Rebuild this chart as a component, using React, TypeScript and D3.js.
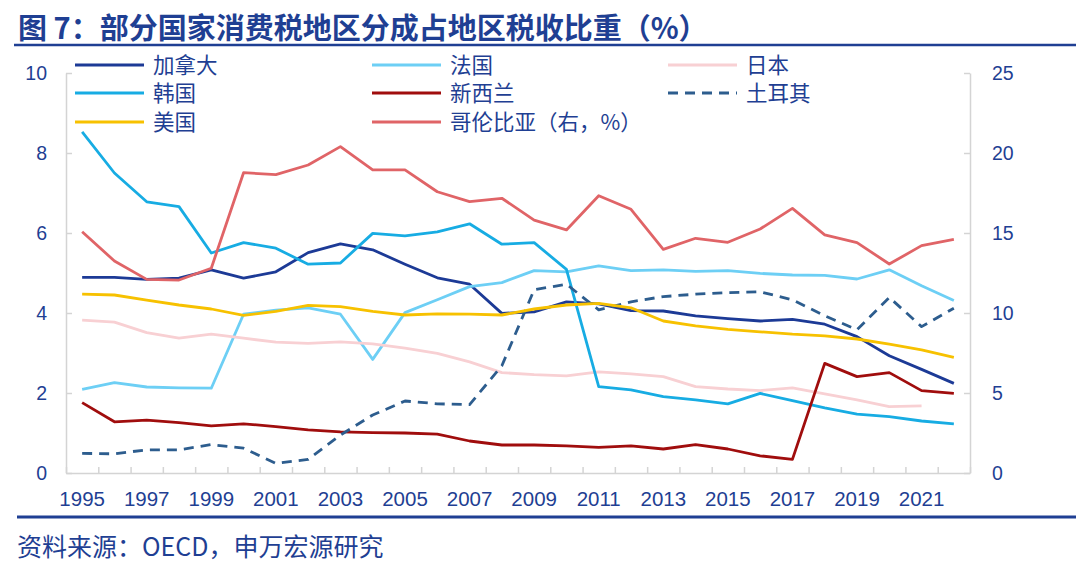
import { useEffect, useRef } from 'react';
import * as d3 from 'd3';

const years = [1995, 1996, 1997, 1998, 1999, 2000, 2001, 2002, 2003, 2004, 2005, 2006, 2007, 2008, 2009, 2010, 2011, 2012, 2013, 2014, 2015, 2016, 2017, 2018, 2019, 2020, 2021, 2022];

const canada = [4.89, 4.89, 4.84, 4.87, 5.08, 4.87, 5.03, 5.51, 5.73, 5.58, 5.22, 4.88, 4.72, 3.99, 4.03, 4.28, 4.23, 4.06, 4.05, 3.93, 3.86, 3.8, 3.84, 3.72, 3.41, 2.93, 2.59, 2.24];
const france = [2.09, 2.26, 2.15, 2.13, 2.12, 3.97, 4.07, 4.13, 3.97, 2.84, 4.01, 4.33, 4.66, 4.76, 5.06, 5.03, 5.18, 5.06, 5.08, 5.04, 5.06, 4.99, 4.95, 4.94, 4.85, 5.08, 4.68, 4.31];
const japan = [3.82, 3.77, 3.51, 3.37, 3.47, 3.37, 3.27, 3.24, 3.28, 3.23, 3.12, 2.99, 2.78, 2.51, 2.46, 2.43, 2.53, 2.48, 2.41, 2.16, 2.1, 2.06, 2.13, 1.98, 1.83, 1.66, 1.68, null];
const korea = [8.53, 7.5, 6.78, 6.66, 5.5, 5.76, 5.62, 5.22, 5.25, 5.99, 5.93, 6.03, 6.23, 5.72, 5.76, 5.09, 2.16, 2.08, 1.91, 1.83, 1.73, 1.99, 1.81, 1.63, 1.47, 1.41, 1.3, 1.23];
const newZealand = [1.76, 1.28, 1.32, 1.26, 1.18, 1.23, 1.16, 1.08, 1.03, 1.01, 1.0, 0.97, 0.8, 0.7, 0.7, 0.68, 0.64, 0.68, 0.6, 0.71, 0.6, 0.43, 0.34, 2.74, 2.41, 2.51, 2.06, 1.99];
const turkey = [0.49, 0.48, 0.58, 0.58, 0.71, 0.62, 0.24, 0.34, 0.95, 1.45, 1.8, 1.73, 1.71, 2.68, 4.58, 4.72, 4.08, 4.28, 4.41, 4.47, 4.51, 4.53, 4.33, 3.93, 3.58, 4.39, 3.66, 4.12];
const usa = [4.47, 4.45, 4.32, 4.2, 4.1, 3.94, 4.04, 4.19, 4.16, 4.04, 3.95, 3.98, 3.97, 3.95, 4.1, 4.2, 4.24, 4.13, 3.8, 3.68, 3.59, 3.53, 3.47, 3.43, 3.35, 3.22, 3.08, 2.89];
const colombia = [15.08, 13.25, 12.1, 12.06, 12.8, 18.77, 18.65, 19.25, 20.4, 18.94, 18.94, 17.58, 16.96, 17.17, 15.81, 15.19, 17.33, 16.48, 13.98, 14.67, 14.42, 15.25, 16.54, 14.88, 14.4, 13.06, 14.21, 14.6];

const leftTicks = [0, 2, 4, 6, 8, 10];
const rightTicks = [0, 5, 10, 15, 20, 25];
const labelYears = [1995, 1997, 1999, 2001, 2003, 2005, 2007, 2009, 2011, 2013, 2015, 2017, 2019, 2021];

const NAVY = '#1f3f93';
const CJK = '"Noto Sans CJK SC", "Noto Sans", sans-serif';
const LATIN = '"Liberation Sans", Arial, sans-serif';

type Series = { name: string; values: (number | null)[]; color: string; right?: boolean; dash?: string };

const series: Series[] = [
  { name: '加拿大', values: canada, color: '#1c3a96' },
  { name: '法国', values: france, color: '#6dcff5' },
  { name: '日本', values: japan, color: '#f8d0d3' },
  { name: '韩国', values: korea, color: '#17ace3' },
  { name: '新西兰', values: newZealand, color: '#a00d0d' },
  { name: '土耳其', values: turkey, color: '#2d5d8e', dash: '10,7' },
  { name: '美国', values: usa, color: '#f7c100' },
  { name: '哥伦比亚（右，%）', values: colombia, color: '#e06467', right: true },
];

export default function App() {
  const ref = useRef<SVGSVGElement | null>(null);

  useEffect(() => {
    const svg = d3.select(ref.current!);
    svg.selectAll('*').remove();
    const W = 1080, H = 563;
    const left = 66, right = 970, top = 73, bottom = 473;

    svg.append('rect').attr('width', W).attr('height', H).attr('fill', '#fff');

    // title
    svg.append('text').attr('x', 18).attr('y', 39).attr('fill', NAVY).attr('font-size', 29).attr('font-weight', 700)
      .attr('font-family', CJK).text('图 7：部分国家消费税地区分成占地区税收比重（%）');
    svg.append('line').attr('x1', 14).attr('x2', 1076).attr('y1', 45).attr('y2', 45).attr('stroke', NAVY).attr('stroke-width', 2.5);

    const x = d3.scaleBand<number>().domain(years).range([left, right]);
    const cx = (yr: number) => (x(yr) ?? 0) + x.bandwidth() / 2;
    const yL = d3.scaleLinear().domain([0, 10]).range([bottom, top]);
    const yR = d3.scaleLinear().domain([0, 25]).range([bottom, top]);
    const xEdge = d3.scaleLinear().domain([0, years.length]).range([left, right]);

    const styleAxis = (g: d3.Selection<SVGGElement, unknown, null, undefined>) => {
      g.selectAll('.domain').attr('stroke', '#d4d4d4').attr('stroke-width', 1.5);
      g.selectAll('.tick line').attr('stroke', '#d4d4d4').attr('stroke-width', 1.5);
      g.selectAll('text').attr('fill', NAVY).attr('font-family', LATIN);
    };

    // x tick marks at band edges
    const gx = svg.append('g').attr('transform', `translate(0,${bottom})`)
      .call(d3.axisBottom(xEdge).tickValues(d3.range(0, years.length + 1)).tickSizeInner(-6).tickSizeOuter(0).tickFormat(() => ''));
    styleAxis(gx);
    const gxl = svg.append('g').attr('transform', `translate(0,${bottom})`)
      .call(d3.axisBottom(x).tickValues(labelYears).tickSize(0).tickPadding(18).tickFormat((d) => String(d)));
    gxl.select('.domain').remove();
    styleAxis(gxl);
    gxl.selectAll('text').attr('font-size', 20.5);

    const gl = svg.append('g').attr('transform', `translate(${left},0)`)
      .call(d3.axisLeft(yL).tickValues(leftTicks).tickSizeInner(-6).tickSizeOuter(0).tickPadding(19));
    styleAxis(gl);
    gl.selectAll('text').attr('font-size', 19.5);

    const gr = svg.append('g').attr('transform', `translate(${right},0)`)
      .call(d3.axisRight(yR).tickValues(rightTicks).tickSizeInner(-6).tickSizeOuter(0).tickPadding(22));
    styleAxis(gr);
    gr.selectAll('text').attr('font-size', 19.5);

    // lines
    series.forEach((s) => {
      const y = s.right ? yR : yL;
      const line = d3.line<number | null>()
        .defined((d) => d !== null)
        .x((_, i) => cx(years[i]))
        .y((d) => y(d as number));
      svg.append('path').datum(s.values).attr('d', line).attr('fill', 'none')
        .attr('stroke', s.color).attr('stroke-width', 2.8).attr('stroke-linejoin', 'round')
        .attr('stroke-dasharray', s.dash ?? null);
    });

    // legend
    const colX = [75, 372, 668];
    const rowY = [65, 93, 122];
    series.forEach((s, i) => {
      const c = i % 3, r = Math.floor(i / 3);
      const g = svg.append('g').attr('transform', `translate(${colX[c]},${rowY[r]})`);
      g.append('line').attr('x1', 0).attr('x2', 69).attr('y1', 0).attr('y2', 0)
        .attr('stroke', s.color).attr('stroke-width', 3).attr('stroke-dasharray', s.dash ?? null);
      g.append('text').attr('x', 78).attr('y', 0).attr('dy', '0.36em').attr('fill', NAVY)
        .attr('font-size', 21.5).attr('font-family', CJK).text(s.name);
    });

    // footer
    svg.append('line').attr('x1', 17).attr('x2', 1076).attr('y1', 517).attr('y2', 517).attr('stroke', NAVY).attr('stroke-width', 3);
    svg.append('text').attr('x', 17).attr('y', 556).attr('fill', NAVY).attr('font-size', 25)
      .attr('font-family', CJK).text('资料来源：OECD，申万宏源研究');
  }, []);

  return (
    <div>
      <style>{'body{margin:0}'}</style>
      <svg ref={ref} width={1080} height={563} style={{ display: 'block' }} />
    </div>
  );
}
